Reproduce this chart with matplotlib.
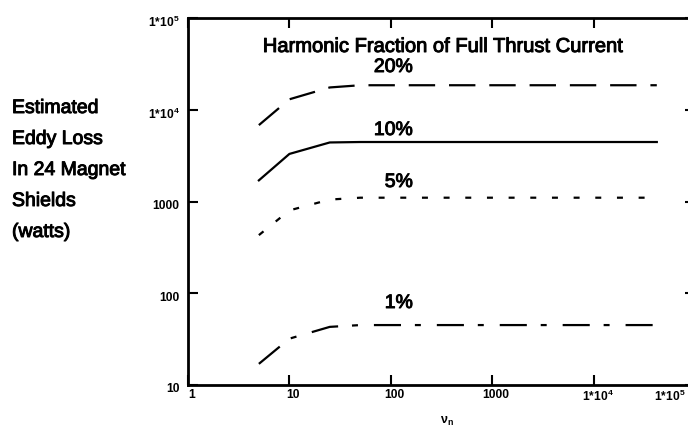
#!/usr/bin/env python

import matplotlib
matplotlib.use('Agg')
import matplotlib.pyplot as plt
import matplotlib.patheffects as pe
from matplotlib.transforms import ScaledTranslation

plt.rcParams['font.family'] = ['Liberation Sans', 'DejaVu Sans']
plt.rcParams['mathtext.fontset'] = 'custom'
plt.rcParams['mathtext.rm'] = 'Liberation Sans'
plt.rcParams['mathtext.bf'] = 'Liberation Sans:bold'
plt.rcParams['mathtext.it'] = 'Liberation Sans:italic'
plt.rcParams['lines.scale_dashes'] = False

# harmonic number and estimated eddy loss (W) for each harmonic fraction
nu = [5, 10, 25, 50, 42000]
loss_20 = [6800, 13000, 17500, 18500, 18500]
loss_10 = [1700, 3300, 4400, 4450, 4450]
loss_5 = [430, 800, 1050, 1100, 1100]
loss_1 = [17, 32, 43, 45, 45]

curve_names = ['20%', '10%', '5%', '1%']
x_ticks = [1, 10, 100, 1000, 1e4, 1e5]
x_tick_labels = ['1', '10', '100', '1000', r'1*10$^{\mathbf{4}}$', r'1*10$^{\mathbf{5}}$']
y_ticks = [10, 100, 1000, 1e4, 1e5]
y_tick_labels = ['10', '100', '1000', r'1*10$^{\mathbf{4}}$', r'1*10$^{\mathbf{5}}$']
side_text = ['Estimated', 'Eddy Loss', 'In 24 Magnet', 'Shields', '(watts)']

W, H = 688, 428


def px(x, y):
    # pixel position (from top-left) -> figure fraction
    return x / W, 1 - y / H


def main() -> None:
    fig = plt.figure(figsize=(W / 100, H / 100), dpi=100)
    ax = fig.add_axes([188 / W, 43 / H, 507 / W, 367 / H])
    heavy = [pe.withStroke(linewidth=0.7, foreground='black')]

    styles = [(0, (19, 10)), '-', (0, (4.3, 11.3)), (0, (19.5, 10, 4.3, 11.5))]
    for ys, ls in zip([loss_20, loss_10, loss_5, loss_1], styles):
        ax.plot(nu, ys, color='black', lw=1.6, linestyle=ls, dash_capstyle='butt')

    ax.set_xscale('log')
    ax.set_yscale('log')
    ax.set_xlim(1, 1e5)
    ax.set_ylim(10, 1e5)

    ax.set_xticks(x_ticks, x_tick_labels)
    ax.set_yticks(y_ticks, y_tick_labels)
    ax.minorticks_off()
    ax.tick_params(direction='in', length=7, width=1.5, top=True, right=True,
                   labelsize=8.7)
    ax.tick_params(axis='x', pad=3)
    ax.tick_params(axis='y', pad=6)
    for side in ['left', 'top', 'bottom']:
        ax.spines[side].set_linewidth(2)
    ax.spines['right'].set_visible(False)

    x_shift = ScaledTranslation(4 / 100, 0, fig.dpi_scale_trans)
    y_shift = ScaledTranslation(0, -3 / 100, fig.dpi_scale_trans)
    for lbl in ax.get_xticklabels():
        lbl.set_fontweight('bold')
        lbl.set_transform(lbl.get_transform() + x_shift)
    # last x label sits at the figure edge, pull it back inside
    last = ax.get_xticklabels()[-1]
    last.set_horizontalalignment('right')
    last.set_transform(last.get_transform()
                       + ScaledTranslation(-13 / 100, 0, fig.dpi_scale_trans))
    for lbl in ax.get_yticklabels():
        lbl.set_fontweight('bold')
        lbl.set_transform(lbl.get_transform() + y_shift)

    fig.text(*px(443, 52), 'Harmonic Fraction of Full Thrust Current',
             fontsize=14.5, ha='center', va='baseline', path_effects=heavy)
    for name, y in zip(curve_names, [72, 135, 187, 308]):
        fig.text(*px(413, y), name, fontsize=14, ha='right', va='baseline',
                 path_effects=heavy)

    for i, line in enumerate(side_text):
        fig.text(*px(12, 113 + 31 * i), line, fontsize=14, va='baseline',
                 path_effects=heavy)

    fig.text(*px(440, 424), r'$\mathbf{\nu}_{\mathbf{n}}$', fontsize=9,
             va='baseline')

    fig.savefig('out.png', dpi=100)


if __name__ == '__main__':
    main()
